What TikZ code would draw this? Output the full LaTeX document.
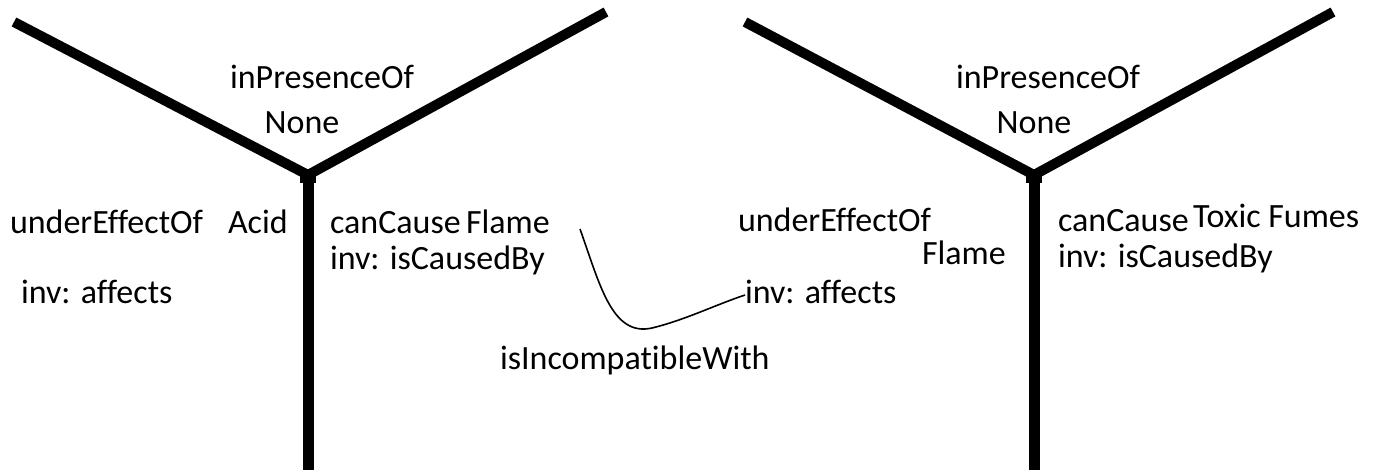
\documentclass[tikz,border=0pt]{standalone}
\usepackage{fontspec}
\setmainfont[Ligatures={NoCommon}]{Carlito}
\begin{document}
\begin{tikzpicture}[x=1pt,y=-1pt,
  lbl/.style={inner sep=0pt,outer sep=0pt,anchor=base west,font=\fontsize{34}{40}\selectfont},
  lblc/.style={lbl,anchor=base},
  arm/.style={line width=10pt,line cap=butt,line join=round},
  stem/.style={line width=11pt,line cap=butt},
  link/.style={line width=1.6pt}]
\useasboundingbox[fill=white] (0,0) rectangle (1383,469);
% left Y
\coordinate (a1) at (14,22);
\coordinate (j1) at (308,175);
\coordinate (b1) at (606,12);
\coordinate (s1) at (308,475);
\draw[arm] (a1) -- (j1) -- (b1);
\draw[stem] (j1) -- (s1);
\fill (j1) ++(-8,-4) rectangle ++(16,12);
% right Y
\coordinate (a2) at (745,22);
\coordinate (j2) at (1034,175);
\coordinate (b2) at (1333,12);
\coordinate (s2) at (1034,475);
\draw[arm] (a2) -- (j2) -- (b2);
\draw[stem] (j2) -- (s2);
\fill (j2) ++(-8,-4) rectangle ++(16,12);
% left labels
\node[lblc] (ip1) at (322,88) {inPresenceOf};
\node[lblc] (no1) at (302,133) {None};
\node[lbl] (ue1) at (10,233) {underEffectOf};
\node[lbl] (ac1) at (228,233) {Acid};
\node[lbl] (ia1) at (21,303) {inv: affects};
\node[lbl] (cc1) at (330,233) {canCause};
\node[lbl] (fl1) at (466,233) {Flame};
\node[lbl] (ic1) at (330,269) {inv: isCausedBy};
% middle
\node[lbl] (inc) at (500,369) {isIncompatibleWith};
% right labels
\node[lbl] (ue2) at (738,231) {underEffectOf};
\node[lblc] (ip2) at (1048,88) {inPresenceOf};
\node[lblc] (no2) at (1034,133) {None};
\node[lbl] (fl2) at (922,264) {Flame};
\node[lbl] (ia2) at (745,303) {inv: affects};
\node[lbl] (cc2) at (1058,231) {canCause};
\node[lbl] (tf2) at (1193,227) {Toxic Fumes};
\node[lbl] (ic2) at (1058,267) {inv: isCausedBy};
% connector
\coordinate (cs) at (580,229);
\draw[link] (cs) .. controls (600,285) and (612,337) .. (652,328)
  .. controls (685,320) and (715,305) .. (ia2.west |- 0,295);
\end{tikzpicture}
\end{document}
